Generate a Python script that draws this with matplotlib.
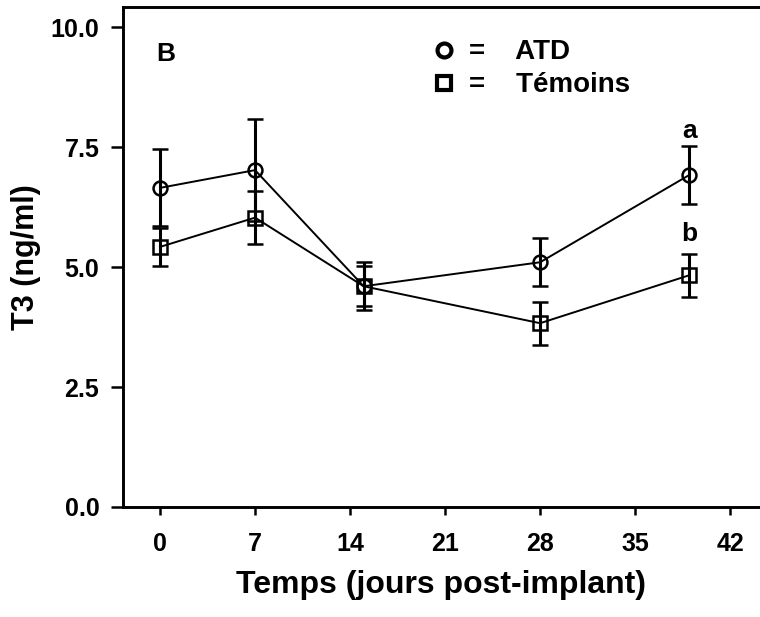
import matplotlib
matplotlib.use("Agg")
import matplotlib.pyplot as plt
from matplotlib.lines import Line2D

# Sampling days after implant
days = [0, 7, 15, 28, 39]

# T3 means and standard errors (ng/ml)
atd_mean = [6.65, 7.02, 4.60, 5.10, 6.92]
atd_err = [0.80, 1.06, 0.50, 0.50, 0.60]
tem_mean = [5.42, 6.03, 4.60, 3.83, 4.83]
tem_err = [0.40, 0.55, 0.42, 0.45, 0.45]

x_ticks = [0, 7, 14, 21, 28, 35, 42]
y_ticks = [0.0, 2.5, 5.0, 7.5, 10.0]
y_tick_labels = ["0.0", "2.5", "5.0", "7.5", "10.0"]

plt.rcParams["font.family"] = ["Liberation Sans", "DejaVu Sans"]
plt.rcParams["font.weight"] = "bold"

fig = plt.figure(figsize=(7.6, 6.17), dpi=100)
ax = fig.add_axes([0.1618, 0.1783, 0.8382, 0.8104])

common = dict(color="black", lw=1.4, ms=10, mfc="none", mew=1.8,
              ecolor="black", elinewidth=2.2, capsize=6, capthick=2.2)
ax.errorbar(days, atd_mean, yerr=atd_err, marker="o", **common)
ax.errorbar(days, tem_mean, yerr=tem_err, marker="s", **common)

# significance letters above the last time point
ax.annotate("a", xy=(days[-1], atd_mean[-1] + atd_err[-1]), xytext=(0, 6),
            textcoords="offset points", ha="center", va="baseline",
            fontsize=19, fontweight="bold")
ax.annotate("b", xy=(days[-1], tem_mean[-1] + tem_err[-1]), xytext=(0, 9),
            textcoords="offset points", ha="center", va="baseline",
            fontsize=19, fontweight="bold")

ax.text(0.053, 0.906, "B", transform=ax.transAxes, fontsize=19,
        fontweight="bold", ha="left", va="center")

handles = [
    Line2D([], [], ls="none", marker="o", ms=10, mfc="none", mec="black", mew=3),
    Line2D([], [], ls="none", marker="s", ms=10, mfc="none", mec="black", mew=3),
]
ax.legend(handles, ["=    ATD", "=    Témoins"], loc="upper left",
          bbox_to_anchor=(0.451, 0.985), frameon=False, handlelength=0.6,
          handletextpad=0.6, labelspacing=0.25,
          prop=dict(family=["Liberation Sans", "DejaVu Sans"], size=20, weight="bold"))

ax.set_xlim(-2.73, 44.2)
ax.set_ylim(0, 10.42)
ax.set_xticks(x_ticks)
ax.set_yticks(y_ticks)
ax.set_yticklabels(y_tick_labels)

for side in ("left", "top", "bottom"):
    ax.spines[side].set_linewidth(2.1)
ax.spines["right"].set_visible(False)

ax.tick_params(axis="y", direction="out", length=9, width=1.8, pad=8, labelsize=18)
ax.tick_params(axis="x", direction="out", length=6, width=1.8, pad=12, labelsize=18)

ax.set_xlabel("Temps (jours post-implant)", fontsize=23, fontweight="bold", labelpad=10)
ax.set_ylabel("T3 (ng/ml)", fontsize=22, fontweight="bold", labelpad=7)

fig.savefig("out.png", dpi=100)
